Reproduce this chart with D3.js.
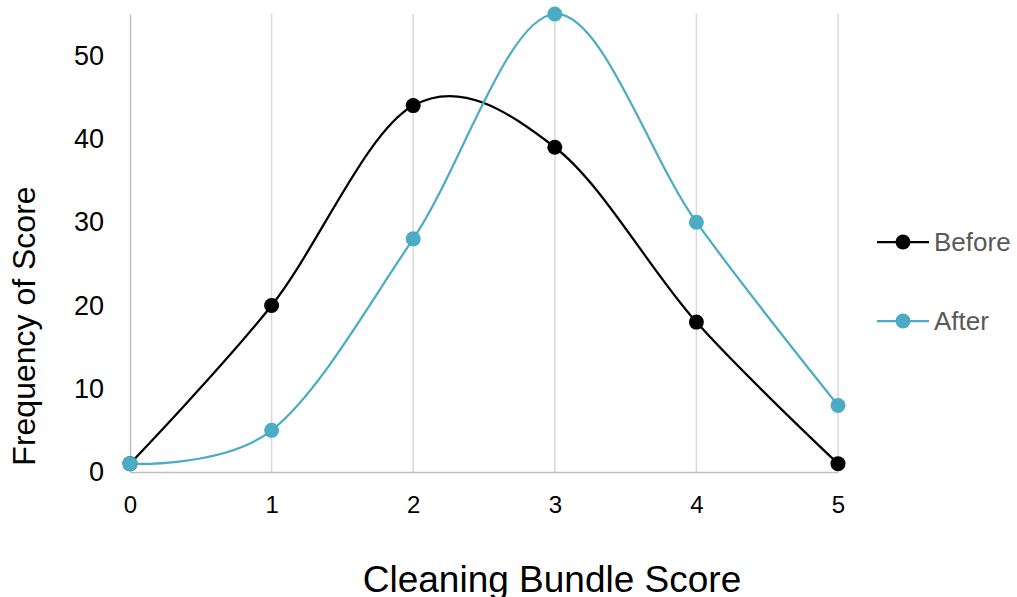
<!DOCTYPE html>
<html>
<head>
<meta charset="utf-8">
<script src="https://cdn.jsdelivr.net/npm/d3@7"></script>
<style>
  html, body { margin: 0; padding: 0; background: #fff; }
  svg { display: block; font-family: "Liberation Sans", Arial, sans-serif; }
</style>
</head>
<body>
<svg id="chart" width="1017" height="597"></svg>
<script>
// Score categories on the x axis
const scores = [0, 1, 2, 3, 4, 5];
// Frequency of each score before and after the cleaning bundle
const beforeValues = [1, 20, 44, 39, 18, 1];
const afterValues = [1, 5, 28, 55, 30, 8];
const yTicks = [0, 10, 20, 30, 40, 50];
const seriesNames = ["Before", "After"];
const seriesColors = ["#000000", "#4BACC6"];

const svg = d3.select("#chart");
const plotLeft = 130, plotRight = 838, plotTop = 14, plotBottom = 472;

const x = d3.scaleLinear().domain([0, 5]).range([plotLeft, plotRight]);
const y = d3.scaleLinear().domain([0, 55]).range([plotBottom, plotTop]);

// vertical gridlines
svg.append("g")
  .selectAll("line")
  .data(scores.filter(d => d > 0))
  .join("line")
  .attr("x1", d => x(d)).attr("x2", d => x(d))
  .attr("y1", y(55)).attr("y2", y(0))
  .attr("stroke", "#d9d9d9").attr("stroke-width", 1.5);

// y axis
const yAxis = svg.append("g")
  .attr("transform", `translate(${plotLeft},0)`)
  .call(d3.axisLeft(y).tickValues(yTicks).tickSize(0).tickPadding(26));
yAxis.select(".domain").attr("stroke", "#bfbfbf").attr("stroke-width", 1.5);
yAxis.selectAll("text").attr("font-size", 27).attr("fill", "#000")
  .attr("font-family", "Liberation Sans, Arial, sans-serif");

// x axis
const xAxis = svg.append("g")
  .attr("transform", `translate(0,${plotBottom})`)
  .call(d3.axisBottom(x).tickValues(scores).tickFormat(d3.format("d")).tickSize(0).tickPadding(24));
xAxis.select(".domain").attr("stroke", "#bfbfbf").attr("stroke-width", 1.5);
xAxis.selectAll("text").attr("font-size", 24).attr("fill", "#000")
  .attr("font-family", "Liberation Sans, Arial, sans-serif");

// axis titles
svg.append("text")
  .attr("x", 552).attr("y", 592)
  .attr("text-anchor", "middle")
  .attr("font-size", 37).attr("fill", "#000")
  .text("Cleaning Bundle Score");

svg.append("text")
  .attr("transform", "translate(35,326) rotate(-90)")
  .attr("text-anchor", "middle")
  .attr("font-size", 32).attr("fill", "#000")
  .text("Frequency of Score");

// smoothed series lines with markers
const line = d3.line()
  .x((d, i) => x(scores[i]))
  .y(d => y(d))
  .curve(d3.curveCardinal.tension(0));

[beforeValues, afterValues].forEach((vals, k) => {
  const g = svg.append("g");
  g.append("path")
    .datum(vals)
    .attr("d", line)
    .attr("fill", "none")
    .attr("stroke", seriesColors[k])
    .attr("stroke-width", 2.25);
  g.selectAll("circle")
    .data(vals)
    .join("circle")
    .attr("cx", (d, i) => x(scores[i]))
    .attr("cy", d => y(d))
    .attr("r", 7.5)
    .attr("fill", seriesColors[k]);
});

// legend
const legendY = [242, 321];
seriesNames.forEach((name, k) => {
  const g = svg.append("g").attr("transform", `translate(0,${legendY[k]})`);
  g.append("line")
    .attr("x1", 877).attr("x2", 929)
    .attr("stroke", seriesColors[k]).attr("stroke-width", 2.25);
  g.append("circle")
    .attr("cx", 903).attr("r", 7.5)
    .attr("fill", seriesColors[k]);
  g.append("text")
    .attr("x", 934).attr("y", 0).attr("dy", "0.35em")
    .attr("font-size", 26).attr("fill", "#595959")
    .text(name);
});
</script>
</body>
</html>
